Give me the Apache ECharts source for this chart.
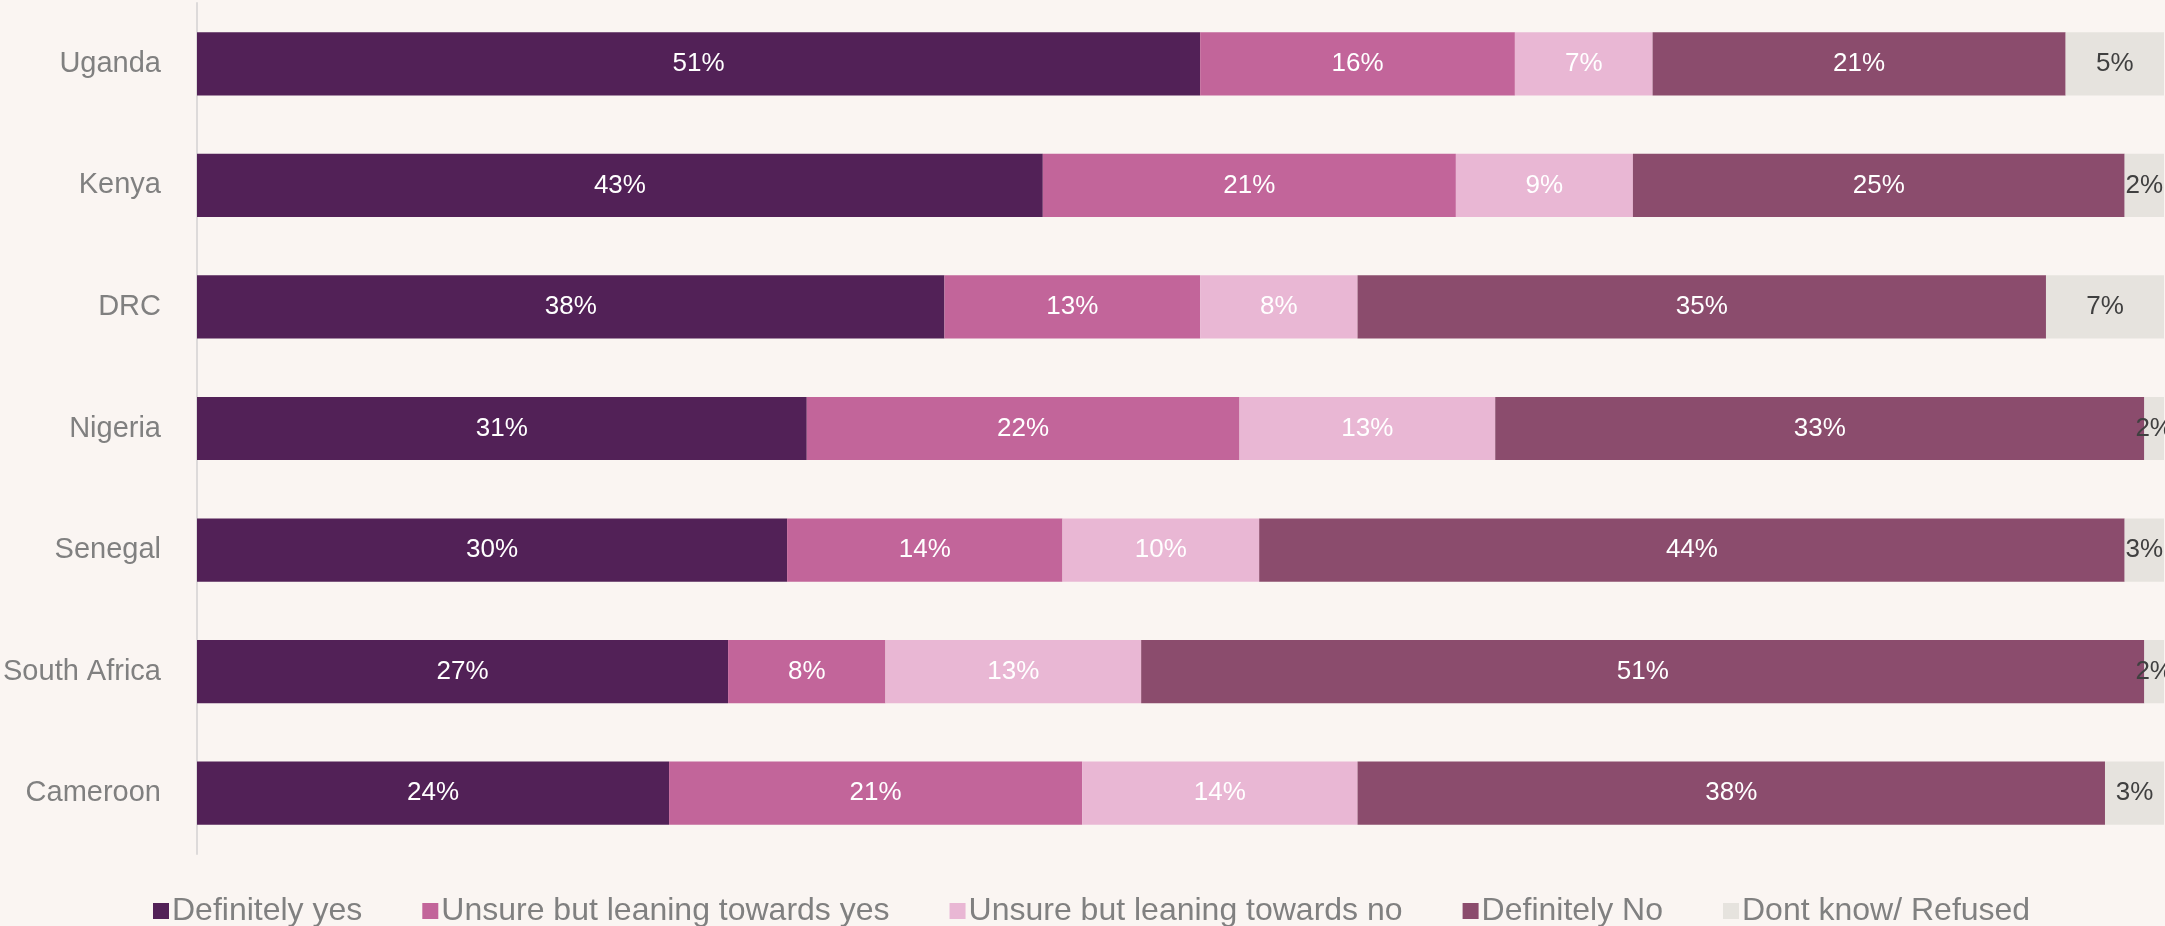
<!DOCTYPE html>
<html>
<head>
<meta charset="utf-8">
<script src="https://cdn.jsdelivr.net/npm/echarts@6/dist/echarts.min.js"></script>
<style>
  html, body { margin: 0; padding: 0; background: #FAF5F2; }
  #chart { width: 2165px; height: 926px; }
</style>
</head>
<body>
<div id="chart"></div>
<script>
// Countries, top to bottom
const countries = ['Uganda', 'Kenya', 'DRC', 'Nigeria', 'Senegal', 'South Africa', 'Cameroon'];

// Share of respondents (%) per answer
const definitelyYes = [51, 43, 38, 31, 30, 27, 24];
const leaningYes    = [16, 21, 13, 22, 14, 8, 21];
const leaningNo     = [7, 9, 8, 13, 10, 13, 14];
const definitelyNo  = [21, 25, 35, 33, 44, 51, 38];
const dontKnow      = [5, 2, 7, 2, 3, 2, 3];

const answers = [
  { name: 'Definitely yes', data: definitelyYes, color: '#522157', text: '#ffffff' },
  { name: 'Unsure but leaning towards yes', data: leaningYes, color: '#C2659A', text: '#ffffff' },
  { name: 'Unsure but leaning towards no', data: leaningNo, color: '#E9B7D4', text: '#ffffff' },
  { name: 'Definitely No', data: definitelyNo, color: '#8B4C6D', text: '#ffffff' },
  { name: 'Dont know/ Refused', data: dontKnow, color: '#E6E3DE', text: '#404040' }
];

const font = '"Liberation Sans", Arial, sans-serif';
const chart = echarts.init(document.getElementById('chart'));

chart.setOption({
  backgroundColor: '#FAF5F2',
  animation: false,
  grid: { left: 197, right: 1, top: 3, bottom: 72, containLabel: false, outerBoundsMode: 'none' },
  legend: {
    left: 148,
    top: 890,
    itemWidth: 16,
    itemHeight: 16,
    itemGap: 60,
    icon: 'rect',
    textStyle: { fontFamily: font, fontSize: 32, color: '#808080', padding: [0, 0, 0, -2] },
    data: answers.map(a => a.name)
  },
  xAxis: {
    type: 'value',
    min: 0,
    max: 100,
    show: false
  },
  yAxis: {
    type: 'category',
    inverse: true,
    data: countries,
    axisLine: { show: true, lineStyle: { color: '#DDDADA', width: 2 } },
    axisTick: { show: false },
    axisLabel: { fontFamily: font, fontSize: 29, color: '#808080', margin: 36 }
  },
  series: answers.map(a => ({
    name: a.name,
    type: 'bar',
    stack: 'total',
    barCategoryGap: '48%',
    itemStyle: { color: a.color },
    label: {
      show: true,
      position: 'inside',
      fontFamily: font,
      fontSize: 26,
      color: a.text,
      formatter: p => p.value + '%'
    },
    data: a.data
  }))
});
</script>
</body>
</html>
